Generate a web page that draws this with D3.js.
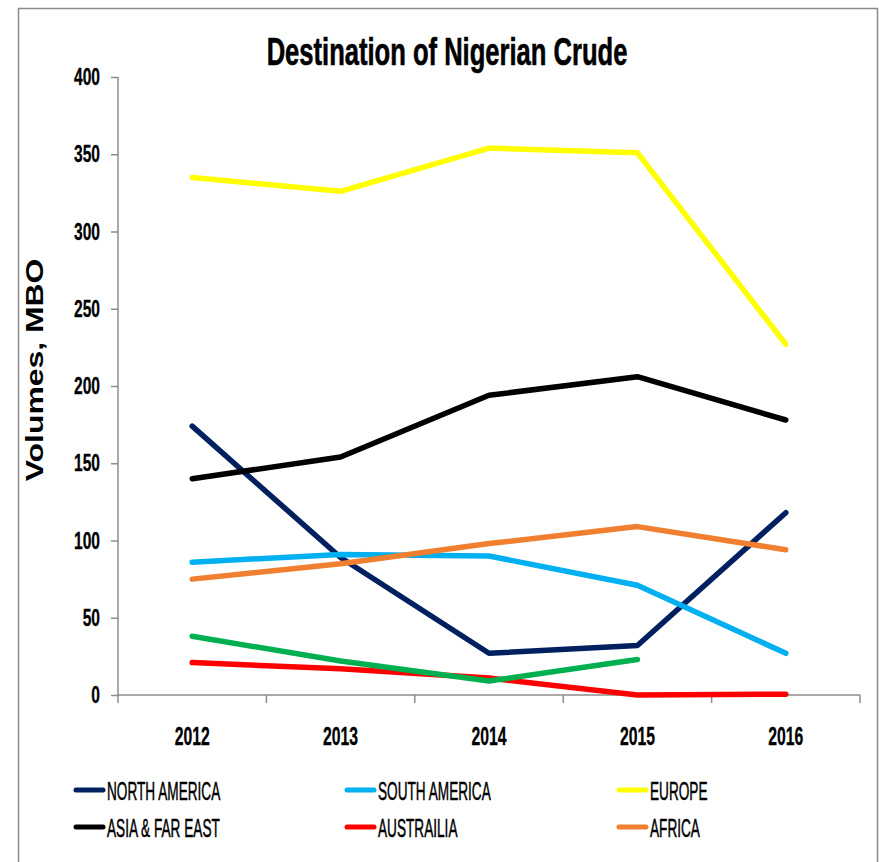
<!DOCTYPE html>
<html>
<head>
<meta charset="utf-8">
<script src="https://cdn.jsdelivr.net/npm/d3@7/dist/d3.min.js"></script>
<style>
  body { margin: 0; background: #fff; overflow: hidden; }
  text { font-family: "Liberation Sans", Arial, sans-serif; }
</style>
</head>
<body>
<div id="chart"></div>
<script>
// values (MBO)
var years = ["2012", "2013", "2014", "2015", "2016"];
var northAmerica = [174, 89, 27, 32, 118];
var southAmerica = [86, 91, 90, 71, 27];
var europe = [335, 326, 354, 351, 227];
var asiaFarEast = [140, 154, 194, 206, 178];
var australia = [21, 17, 11, 0, 0.5];
var africa = [75, 85, 98, 109, 94];
var others = [38, 22, 9, 23, null];   // green line, no legend entry
var yTicks = [0, 50, 100, 150, 200, 250, 300, 350, 400];

var series = [
  { name: "NORTH AMERICA", values: northAmerica, color: "#002060", legend: true },
  { name: "SOUTH AMERICA", values: southAmerica, color: "#00B0F0", legend: true },
  { name: "EUROPE", values: europe, color: "#FFFF00", legend: true },
  { name: "ASIA & FAR EAST", values: asiaFarEast, color: "#000000", legend: true },
  { name: "AUSTRAILIA", values: australia, color: "#FF0000", legend: true },
  { name: "AFRICA", values: africa, color: "#F08030", legend: true },
  { name: "OTHERS", values: others, color: "#00B050", legend: false }
];

var width = 879, height = 862;
var plotLeft = 118, plotRight = 860, plotTop = 77, plotBottom = 695;

var svg = d3.select("#chart").append("svg")
    .attr("width", width)
    .attr("height", height);

// outer frame of the chart object
svg.append("rect")
    .attr("x", 18.5).attr("y", 8.5)
    .attr("width", 859).attr("height", 900)
    .attr("fill", "none")
    .attr("stroke", "#8a8a8a")
    .attr("stroke-width", 1.5);

var x = d3.scaleBand().domain(years).range([plotLeft, plotRight]);
var y = d3.scaleLinear().domain([0, 400]).range([plotBottom, plotTop]);

// condensed text: a normal font squeezed horizontally
function label(txt, px, py, size, sx, weight, anchor) {
  return svg.append("text")
      .attr("transform", "translate(" + px + "," + py + ") scale(" + sx + ",1)")
      .attr("font-size", size)
      .attr("font-weight", weight)
      .attr("text-anchor", anchor)
      .attr("fill", "#000")
      .text(txt);
}

// title
label("Destination of Nigerian Crude", 447, 65, 38, 0.673, "bold", "middle")
    .attr("stroke", "#000").attr("stroke-width", 0.6);

// y axis
var yAxis = svg.append("g")
    .attr("transform", "translate(" + plotLeft + ",0)")
    .call(d3.axisLeft(y).tickValues(yTicks).tickSize(7).tickFormat(""));
yAxis.selectAll("path, line").attr("stroke", "#8c8c8c").attr("stroke-width", 1.5);
yAxis.select(".domain").attr("d", "M0," + plotTop + "V" + plotBottom);

yTicks.forEach(function (t) {
  label(String(t), 100, y(t) + 8, 24, 0.65, "bold", "end")
      .attr("stroke", "#000").attr("stroke-width", 0.3);
});

// x axis, ticks sit at the band edges
var xAxis = svg.append("g")
    .attr("transform", "translate(0," + plotBottom + ")");
xAxis.append("line")
    .attr("x1", plotLeft).attr("x2", plotRight)
    .attr("stroke", "#8c8c8c").attr("stroke-width", 1.5);
var edges = years.map(function (d) { return x(d); }).concat([plotRight]);
xAxis.selectAll("line.tick")
    .data(edges)
    .enter().append("line")
    .attr("class", "tick")
    .attr("x1", function (d) { return d; })
    .attr("x2", function (d) { return d; })
    .attr("y1", 0).attr("y2", 8)
    .attr("stroke", "#8c8c8c").attr("stroke-width", 1.5);

years.forEach(function (yr) {
  label(yr, x(yr) + x.bandwidth() / 2, 745, 25, 0.63, "bold", "middle")
      .attr("stroke", "#000").attr("stroke-width", 0.3);
});

// axis title, stretched along its length
svg.append("text")
    .attr("transform", "translate(43,370) rotate(-90) scale(1.33,1)")
    .attr("font-size", 24)
    .attr("font-weight", "bold")
    .attr("text-anchor", "middle")
    .attr("fill", "#000")
    .text("Volumes, MBO");

// lines
var line = d3.line()
    .defined(function (d) { return d != null; })
    .x(function (d, i) { return x(years[i]) + x.bandwidth() / 2; })
    .y(function (d) { return y(d); });

svg.append("g").selectAll("path")
    .data(series)
    .enter().append("path")
    .attr("d", function (d) { return line(d.values); })
    .attr("fill", "none")
    .attr("stroke", function (d) { return d.color; })
    .attr("stroke-width", 5.5)
    .attr("stroke-linejoin", "round")
    .attr("stroke-linecap", "round");

// legend, 3 columns x 2 rows
var colX = [74, 345, 617];
var rowY = [790, 827];
series.filter(function (s) { return s.legend; }).forEach(function (s, i) {
  var cx = colX[i % 3], cy = rowY[Math.floor(i / 3)];
  svg.append("line")
      .attr("x1", cx + 2).attr("x2", cx + 29)
      .attr("y1", cy).attr("y2", cy)
      .attr("stroke", s.color)
      .attr("stroke-width", 5)
      .attr("stroke-linecap", "round");
  label(s.name, cx + 33, cy + 10, 25, 0.545, "normal", "start")
      .attr("stroke", "#000").attr("stroke-width", 0.5);
});
</script>
</body>
</html>
